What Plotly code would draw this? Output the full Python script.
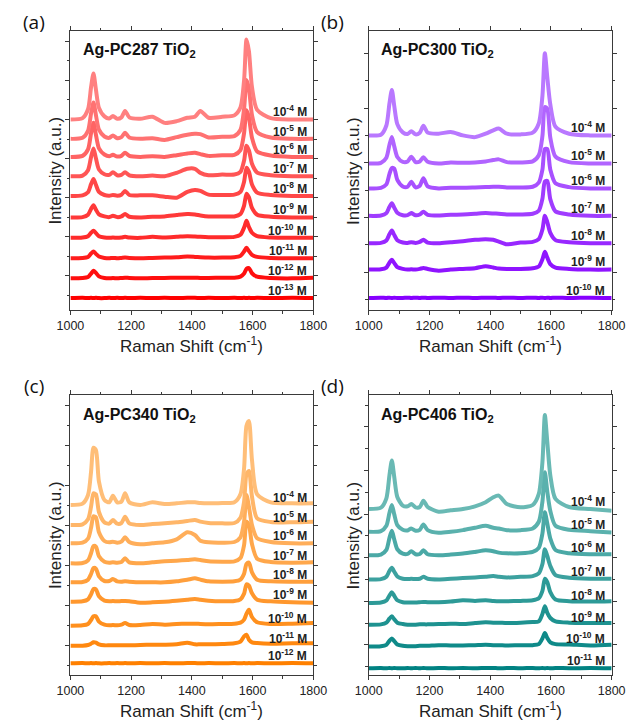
import plotly.graph_objects as go

# ---------------- data ----------------
raman_shift = [1000, 1040, 1058, 1068, 1076, 1084, 1094, 1112, 1128, 1140, 1154, 1168,
               1180, 1194, 1230, 1270, 1310, 1350, 1385, 1410, 1428, 1455, 1500, 1540,
               1560, 1572, 1580, 1588, 1598, 1615, 1660, 1730, 1800]

# (a) Ag-PC287 TiO2
exp_a = [-4, -5, -6, -7, -8, -9, -10, -11, -12, -13]
offset_a = [560, 503, 450, 393, 335, 272, 212, 152, 93, 35]
spec_a = [
    [0, 4, 30, 95, 135, 88, 34, 9, 3, 10, 2, 6, 25, 6, 2, 8, -10, -5, 5, 8, 25, 5, 8, 12, 35, 115, 235, 200, 95, 28, 4, 0, 0],
    [0, 3, 24, 75, 107, 70, 27, 7, 3, 10, 2, 5, 18, 4, 0, 2, -3, 5, 12, 15, 14, 4, 6, 8, 26, 88, 173, 147, 70, 20, 4, 0, 0],
    [0, 3, 22, 70, 100, 65, 25, 7, 2, 6, 1, 3, 12, 3, 0, 2, 0, 5, 10, 12, 8, 3, 5, 6, 20, 70, 137, 116, 56, 16, 4, 0, 0],
    [0, 2, 18, 57, 82, 53, 20, 6, 4, 12, 3, 4, 12, 3, 0, 2, 0, 10, 22, 22, 10, 3, 5, 5, 13, 46, 90, 76, 37, 11, 3, 0, 0],
    [0, 2, 11, 35, 50, 33, 12, 3, 1, 3, 1, 4, 15, 3, 2, 2, -2, -5, 12, 18, 15, 4, 3, 4, 12, 42, 83, 71, 34, 10, 3, 0, 0],
    [0, 1, 8, 25, 36, 23, 9, 3, 1, 5, 1, 3, 10, 2, 0, 2, 3, 7, 10, 9, 6, 3, 3, 3, 10, 35, 70, 59, 28, 8, 2, 0, 0],
    [0, 1, 5, 15, 21, 14, 5, 1, 0, 1, 0, 1, 3, 1, 0, 3, 1, 3, 5, 4, 3, 2, 2, 3, 9, 30, 50, 32, 15, 5, 1, 0, 0],
    [0, 1, 4, 14, 20, 13, 5, 1, 0, 1, 0, 1, 2, 1, 0, 1, 2, 3, 5, 4, 3, 2, 2, 3, 7, 20, 31, 21, 10, 4, 1, 0, 0],
    [0, 1, 4, 14, 22, 16, 6, 1, 0, 1, 0, 1, 2, 1, 0, 1, 1, 2, 2, 2, 1, 1, 2, 2, 5, 14, 28, 30, 15, 5, 1, 0, 2],
    [0, 1, 0, 1, 0, 1, 0, 0, 1, 0, 1, 0, 1, 0, 1, 0, 1, 0, 1, 1, 0, 1, 0, 1, 0, 1, 0, 1, 0, 1, 0, 1, 0],
]

# (b) Ag-PC300 TiO2
exp_b = [-4, -5, -6, -7, -8, -9, -10]
offset_b = [510, 428, 355, 275, 195, 118, 35]
spec_b = [
    [0, 2, 29, 93, 133, 86, 33, 9, 4, 12, 3, 8, 28, 8, 5, 10, 0, -5, 5, 15, 20, 5, 3, 8, 35, 115, 240, 170, 90, 25, 5, 0, 0],
    [0, 2, 17, 54, 77, 50, 19, 5, 6, 20, 4, 6, 18, 5, 0, 3, 2, 3, 6, 10, 12, 4, 3, 6, 24, 80, 165, 160, 75, 20, 4, 0, 0],
    [0, 2, 12, 42, 60, 58, 25, 6, 5, 20, 3, 8, 30, 6, 0, 2, 2, 3, 4, 5, 5, 3, 3, 5, 17, 55, 115, 115, 55, 15, 4, 0, 0],
    [0, 1, 8, 26, 37, 24, 9, 2, 2, 8, 2, 4, 12, 3, 1, 3, 4, 6, 8, 7, 6, 4, 4, 6, 15, 50, 100, 102, 48, 13, 4, 0, 0],
    [0, 1, 8, 26, 37, 24, 9, 2, 1, 3, 1, 4, 10, 2, 0, 3, 6, 10, 12, 10, 5, -3, 2, 4, 12, 40, 80, 62, 30, 9, 3, 0, 0],
    [0, 1, 6, 20, 29, 19, 7, 2, 0, 1, 0, 2, 5, 2, -3, 0, 2, 4, 10, 6, 3, 2, 2, 4, 9, 30, 52, 35, 16, 6, 2, 0, 0],
    [0, 1, 0, 1, 0, 1, 0, 0, 1, 0, 1, 0, 1, 0, 1, 0, 1, 0, 1, 1, 0, 1, 0, 1, 0, 1, 0, 1, 0, 1, 0, 1, 0],
]

# (c) Ag-PC340 TiO2
exp_c = [-4, -5, -6, -7, -8, -9, -10, -11, -12]
offset_c = [510, 450, 395, 335, 278, 220, 148, 88, 35]
spec_c = [
    [0, 4, 30, 100, 172, 165, 70, 15, 8, 28, 8, 10, 35, 8, 0, 8, 3, 5, 8, 8, 6, 5, 6, 8, 32, 110, 238, 252, 135, 32, 8, 5, 5],
    [0, 2, 17, 55, 95, 92, 39, 8, 4, 15, 4, 6, 25, 5, 0, 3, 5, 8, 12, 15, 10, 6, 5, 6, 22, 70, 153, 162, 85, 20, 9, 8, 10],
    [0, 2, 14, 47, 81, 78, 33, 7, 3, 5, 2, 5, 18, 4, -3, 0, 3, 12, 33, 25, 8, 3, 2, 4, 18, 65, 145, 110, 55, 15, 4, 0, 0],
    [0, 1, 9, 30, 52, 50, 21, 5, 2, 3, 2, 4, 15, 3, 0, 3, 6, 8, 10, 12, 10, 6, 5, 6, 16, 55, 125, 115, 58, 14, 4, 2, 3],
    [0, 1, 8, 25, 43, 41, 18, 4, 4, 10, 3, 2, 3, 2, 0, 0, 0, 3, 8, 12, 8, 3, 2, 3, 8, 26, 55, 59, 30, 8, 3, 2, 2],
    [0, 1, 7, 22, 38, 37, 16, 3, 1, 2, 1, 2, 2, 1, -3, -2, 0, 3, 6, 8, 6, 3, 1, 2, 7, 24, 52, 48, 25, 6, 1, -2, -3],
    [0, 1, 5, 17, 28, 28, 12, 3, 1, 2, 1, 3, 8, 2, 2, 5, 3, 5, 6, 6, 5, 4, 5, 6, 9, 18, 36, 48, 26, 10, 5, 6, 8],
    [0, 0, 2, 6, 10, 9, 4, 1, 1, 1, 1, 1, 1, 1, 2, 3, 3, 4, 9, 4, 4, 4, 5, 7, 12, 28, 33, 18, 10, 8, 6, 7, 7],
    [0, 1, 0, 1, 0, 1, 0, 0, 1, 0, 1, 0, 1, 0, 1, 0, 1, 0, 1, 1, 0, 1, 0, 1, 0, 1, 0, 1, 0, 1, 0, 1, 0],
]

# (d) Ag-PC406 TiO2
exp_d = [-4, -5, -6, -7, -8, -9, -10, -11]
offset_d = [495, 427, 357, 285, 215, 150, 85, 20]
spec_d = [
    [0, 4, 32, 100, 145, 95, 36, 10, 8, 15, 5, 6, 25, 6, -8, -4, 0, 8, 20, 35, 40, 15, 5, 12, 45, 140, 280, 200, 100, 30, 6, 0, -5],
    [0, 2, 18, 56, 80, 52, 20, 6, 4, 10, 3, 6, 22, 5, -3, 0, 5, 12, 18, 12, 10, 5, 5, 10, 30, 90, 178, 120, 62, 18, 6, 2, -2],
    [0, 2, 16, 51, 73, 47, 18, 5, 4, 12, 3, 4, 15, 3, 0, 2, 5, 10, 15, 12, 8, 6, 6, 10, 22, 65, 128, 95, 50, 16, 6, 3, 3],
    [0, 1, 8, 25, 35, 23, 9, 2, 1, 2, 1, 2, 8, 2, 0, 2, 4, 6, 8, 10, 8, 6, 8, 10, 18, 46, 90, 70, 40, 13, 5, 2, 2],
    [0, 1, 7, 22, 32, 21, 8, 2, 1, 1, 1, 2, 3, 2, 2, 4, 8, 6, 8, 6, 5, 5, 6, 8, 14, 36, 72, 62, 32, 10, 5, 4, 5],
    [0, 1, 6, 18, 25, 16, 6, 2, 0, 0, 0, 1, 1, 1, 2, 3, 2, 5, 7, 6, 6, 5, 6, 8, 10, 32, 55, 35, 20, 10, 6, 5, 5],
    [0, 1, 5, 17, 24, 16, 6, 2, 1, 1, 1, 2, 2, 2, 4, 3, 3, 4, 5, 4, 4, 3, 4, 4, 7, 24, 40, 25, 12, 7, 6, 3, 5],
    [0, 1, 0, 1, 0, 1, 0, 0, 1, 0, 1, 0, 1, 0, 1, 0, 1, 0, 1, 1, 0, 1, 0, 1, 0, 1, 0, 1, 0, 1, 0, 1, 0],
]

panel_titles = ["Ag-PC287 TiO<sub>2</sub>", "Ag-PC300 TiO<sub>2</sub>",
                "Ag-PC340 TiO<sub>2</sub>", "Ag-PC406 TiO<sub>2</sub>"]
panel_letters = ["(a)", "(b)", "(c)", "(d)"]

# ---------------- styling ----------------
W, H = 640, 724
FONT = "Liberation Sans, Arial, sans-serif"
AXCOL = "#3a3a3a"

# colour ramps (top spectrum light -> bottom spectrum saturated)
ramps = [((255, 128, 128), (255, 0, 0)),
         ((185, 120, 255), (135, 0, 255)),
         ((255, 190, 120), (255, 128, 0)),
         ((105, 185, 180), (0, 130, 130))]


def ramp(c0, c1, n):
    out = []
    for i in range(n):
        t = i / (n - 1) if n > 1 else 0
        out.append("rgb(%d,%d,%d)" % tuple(round(a + (b - a) * t) for a, b in zip(c0, c1)))
    return out


# frame boxes in pixels: (left, right, top, bottom)
boxes = [(59, 313, 31, 310), (371, 625, 31, 310),
         (59, 313, 395, 675), (371, 625, 395, 675)]
yranges = [(0, 820), (0, 815), (0, 840), (0, 835)]
ytick = [(100, 115), (110, 160), (90, 120), (90, 130)]

panels = [(exp_a, offset_a, spec_a), (exp_b, offset_b, spec_b),
          (exp_c, offset_c, spec_c), (exp_d, offset_d, spec_d)]

fig = go.Figure()
annotations = []
layout_axes = {}

for p, (exps, offs, specs) in enumerate(panels):
    xa = "x" if p == 0 else "x%d" % (p + 1)
    ya = "y" if p == 0 else "y%d" % (p + 1)
    cols = ramp(ramps[p][0], ramps[p][1], len(exps))
    # draw bottom first so upper (lighter) spectra sit on top
    for k in reversed(range(len(exps))):
        yv = [offs[k] + v for v in specs[k]]
        fig.add_trace(go.Scatter(x=raman_shift, y=yv, mode="lines", xaxis=xa, yaxis=ya,
                                 line=dict(color=cols[k], width=4, shape="spline", smoothing=0.7),
                                 showlegend=False, hoverinfo="skip"))
        annotations.append(dict(
            x=1785, y=offs[k] + 24, xref=xa, yref=ya, xanchor="right", yanchor="middle",
            text="<b>10<sup>%d</sup> M</b>" % exps[k], showarrow=False,
            font=dict(family=FONT, size=12, color="#222")))

    l, r, t, b = boxes[p]
    xd = [l / W, r / W]
    yd = [1 - b / H, 1 - t / H]
    tick0, dt = ytick[p]
    layout_axes["xaxis" if p == 0 else "xaxis%d" % (p + 1)] = dict(
        domain=xd, anchor=ya, range=[1000, 1800], tick0=1000, dtick=200,
        ticks="outside", ticklen=4, tickwidth=1, tickcolor=AXCOL,
        minor=dict(dtick=100, ticklen=2.5, tickcolor=AXCOL, ticks="outside"),
        showline=True, linecolor=AXCOL, linewidth=1, mirror="allticks",
        showgrid=False, zeroline=False,
        tickfont=dict(family=FONT, size=12.5, color="#222"))
    layout_axes["yaxis" if p == 0 else "yaxis%d" % (p + 1)] = dict(
        domain=yd, anchor=xa, range=list(yranges[p]), tick0=tick0, dtick=dt,
        ticks="outside", ticklen=4, tickwidth=1, tickcolor=AXCOL,
        minor=dict(dtick=dt / 2, tick0=tick0, ticklen=2.5, tickcolor=AXCOL, ticks="outside"),
        showticklabels=False,
        showline=True, linecolor=AXCOL, linewidth=1, mirror="allticks",
        showgrid=False, zeroline=False)

    # panel title inside the frame
    annotations.append(dict(
        x=(l + 11) / W, y=1 - (t + 20) / H, xref="paper", yref="paper",
        text="<b>%s</b>" % panel_titles[p], showarrow=False,
        xanchor="left", yanchor="middle",
        font=dict(family=FONT, size=16, color="#111")))
    # panel letter
    annotations.append(dict(
        x=(l - 38) / W, y=1 - (t - 9) / H, xref="paper", yref="paper",
        text=panel_letters[p], showarrow=False, xanchor="center", yanchor="middle",
        font=dict(family="Open Sans, Liberation Sans, sans-serif", size=19, color="#111")))
    # axis titles
    annotations.append(dict(
        x=(l - 16) / W, y=1 - ((t + b) / 2) / H, xref="paper", yref="paper",
        text="Intensity (a.u.)", showarrow=False, textangle=-90,
        xanchor="center", yanchor="middle",
        font=dict(family=FONT, size=17, color="#222")))
    annotations.append(dict(
        x=((l + r) / 2) / W, y=1 - (b + 35) / H, xref="paper", yref="paper",
        text="Raman Shift (cm<sup>-1</sup>)", showarrow=False,
        xanchor="center", yanchor="middle",
        font=dict(family=FONT, size=17, color="#222")))

fig.update_layout(width=W, height=H, margin=dict(l=0, r=0, t=0, b=0),
                  paper_bgcolor="white", plot_bgcolor="white",
                  annotations=annotations, **layout_axes)

fig.write_html("out.html")
